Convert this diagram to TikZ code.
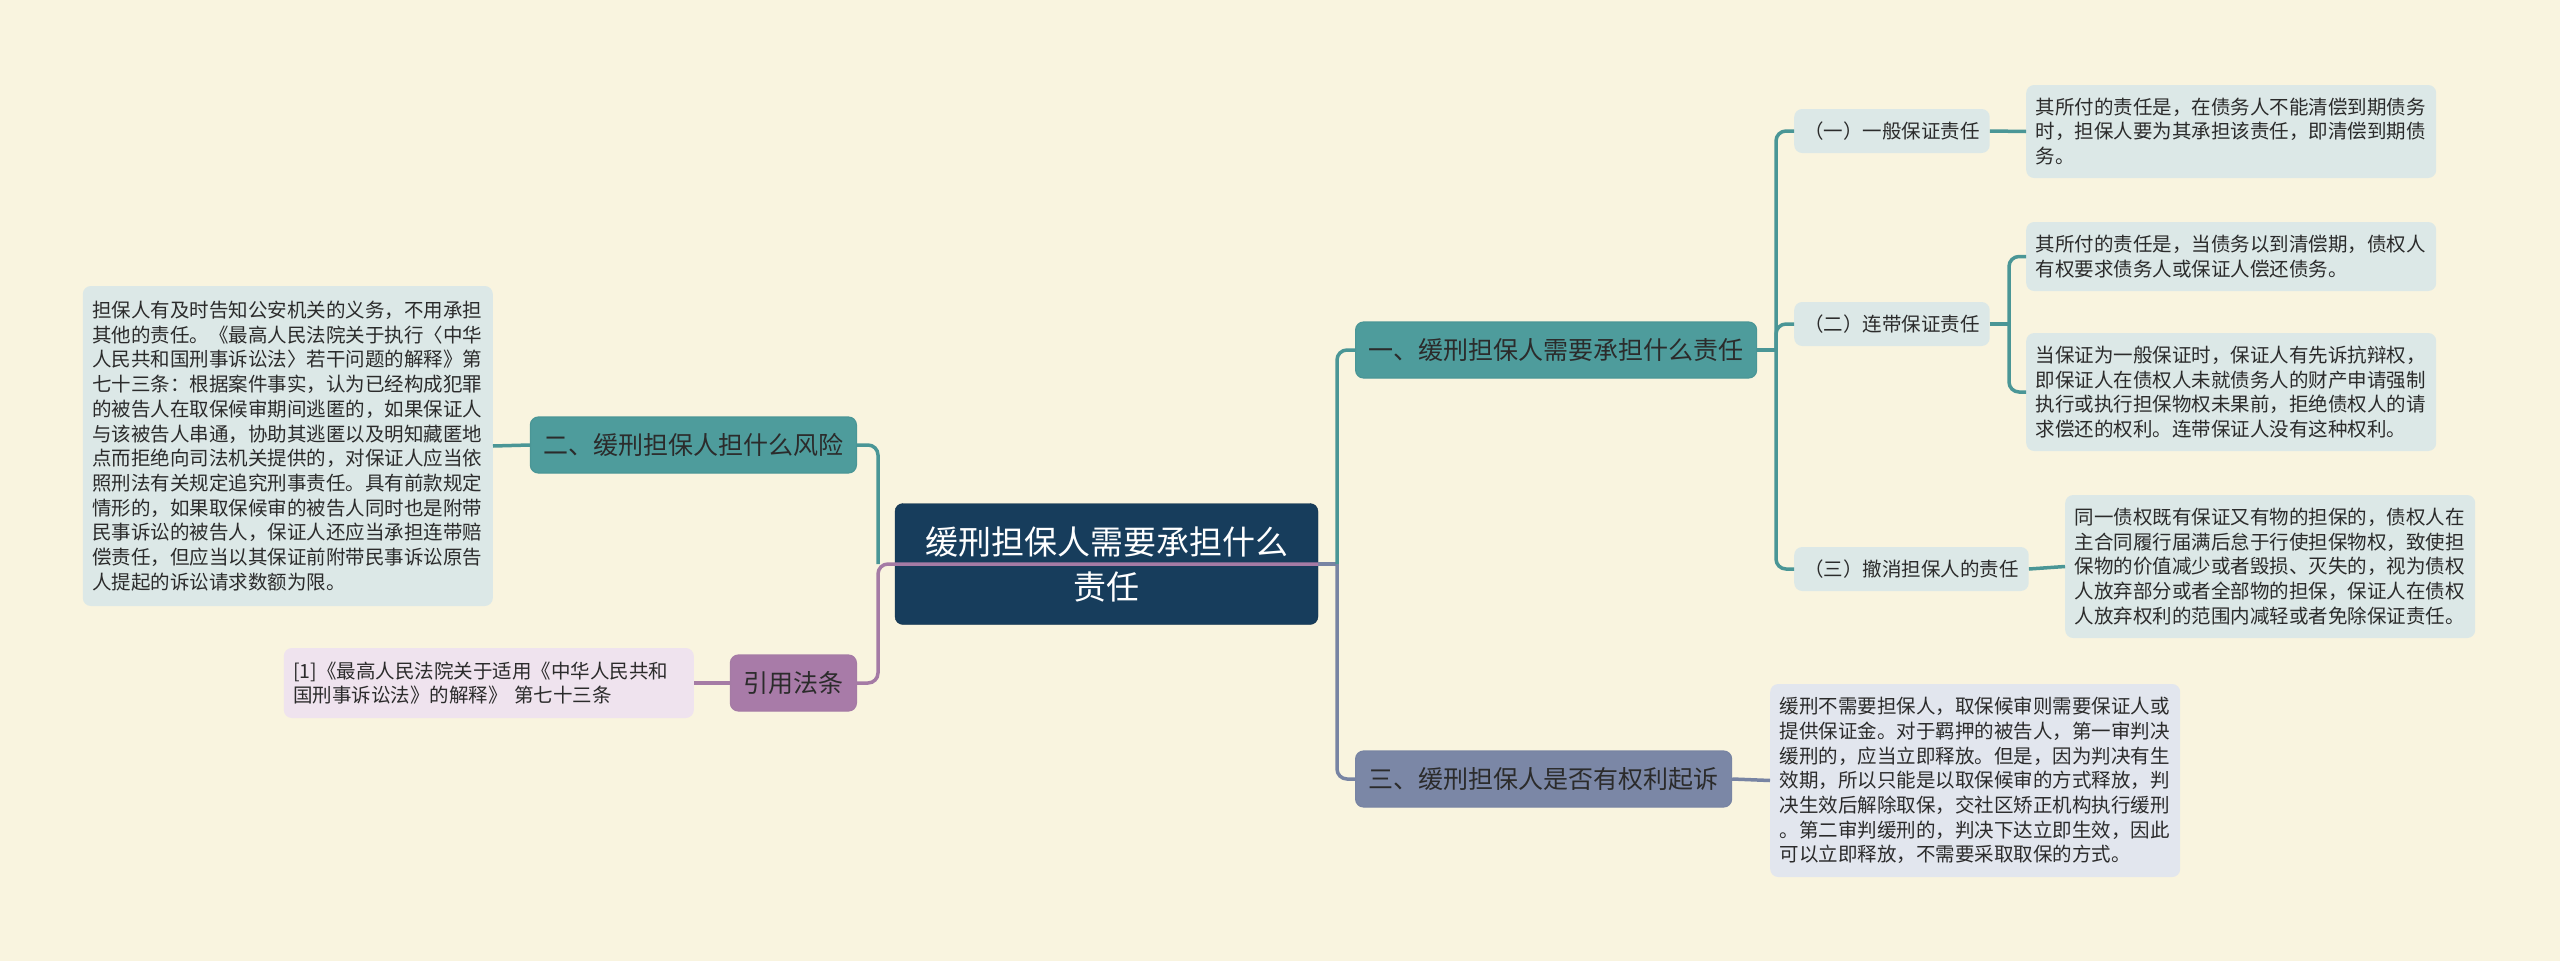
\documentclass[tikz,border=0pt]{standalone}
\usepackage{fontspec}
\setmainfont{Noto Sans CJK SC}
\usetikzlibrary{positioning}

\definecolor{bgcream}{HTML}{F9F4DF}
\definecolor{rootblue}{HTML}{173D5C}
\definecolor{tealfill}{HTML}{4E9C9C}
\definecolor{tealline}{HTML}{4A9696}
\definecolor{mauvefill}{HTML}{A87BA8}
\definecolor{mauveline}{HTML}{A57BA5}
\definecolor{slatefill}{HTML}{7B87A6}
\definecolor{slateline}{HTML}{7884A3}
\definecolor{leaffill}{HTML}{DCE8E7}
\definecolor{pinkfill}{HTML}{EFE3EE}
\definecolor{slateleaf}{HTML}{E2E6EE}
\definecolor{textdark}{HTML}{2B2B2B}

\begin{document}
\begin{tikzpicture}[x=1pt,y=-1pt,
  rootbox/.style={fill=rootblue, draw=rootblue!80!black, rounded corners=8, text=white,
    font=\fontsize{33}{45}\selectfont, align=center, text width=403, minimum height=121, inner xsep=10},
  mainbox/.style={rounded corners=8, line width=1.2, font=\fontsize{25}{30}\selectfont,
    minimum height=56, inner xsep=13, inner ysep=2, text=textdark},
  subbox/.style={fill=leaffill, rounded corners=8, font=\fontsize{19.5}{24.7}\selectfont,
    minimum height=44, inner xsep=10, inner ysep=2, text=textdark},
  leafbox/.style={fill=leaffill, rounded corners=8, font=\fontsize{19.5}{24.7}\selectfont,
    text width=391, align=left, inner xsep=9.5, inner ysep=2, text=textdark},
  link/.style={line width=3.5, rounded corners=10}]
		% Background
		\fill[bgcream] (0,0) rectangle (2560,961);
		% Root and main branches
		\node[rootbox] (root) at (1106.5,564) {缓刑担保人需要承担什么\\责任};
		\node[mainbox, fill=tealfill, draw=tealline, anchor=west] (br1) at (1355,350) {一、缓刑担保人需要承担什么责任};
		\node[mainbox, fill=tealfill, draw=tealline, anchor=east] (br2) at (857,445) {二、缓刑担保人担什么风险};
		\node[mainbox, fill=mauvefill, draw=mauveline, anchor=east] (law) at (857,683) {引用法条};
		\node[mainbox, fill=slatefill, draw=slateline, anchor=west] (br3) at (1355,779) {三、缓刑担保人是否有权利起诉};
		% Sub topics of branch one
		\node[subbox, anchor=west] (gen) at (1794,131) {（一）一般保证责任};
		\node[subbox, anchor=west] (joint) at (1794,324) {（二）连带保证责任};
		\node[subbox, anchor=west] (cancel) at (1794,569) {（三）撤消担保人的责任};
		% Leaf texts
		\node[leafbox, minimum height=93, anchor=west] (genTxt) at (2026,131.5)
			{其所付的责任是，在债务人不能清偿到期债务\\时，担保人要为其承担该责任，即清偿到期债\\务。};
		\node[leafbox, minimum height=69, anchor=west] (jointA) at (2026,256.5)
			{其所付的责任是，当债务以到清偿期，债权人\\有权要求债务人或保证人偿还债务。};
		\node[leafbox, minimum height=118, anchor=west] (jointB) at (2026,392)
			{当保证为一般保证时，保证人有先诉抗辩权，\\即保证人在债权人未就债务人的财产申请强制\\执行或执行担保物权未果前，拒绝债权人的请\\求偿还的权利。连带保证人没有这种权利。};
		\node[leafbox, minimum height=143, anchor=west] (cancelTxt) at (2065,566.5)
			{同一债权既有保证又有物的担保的，债权人在\\主合同履行届满后怠于行使担保物权，致使担\\保物的价值减少或者毁损、灭失的，视为债权\\人放弃部分或者全部物的担保，保证人在债权\\人放弃权利的范围内减轻或者免除保证责任。};
		\node[leafbox, fill=slateleaf, minimum height=193, anchor=west] (suitTxt) at (1770,780.5)
			{缓刑不需要担保人，取保候审则需要保证人或\\提供保证金。对于羁押的被告人，第一审判决\\缓刑的，应当立即释放。但是，因为判决有生\\效期，所以只能是以取保候审的方式释放，判\\决生效后解除取保，交社区矫正机构执行缓刑\\。第二审判缓刑的，判决下达立即生效，因此\\可以立即释放，不需要采取取保的方式。};
		\node[leafbox, minimum height=320, anchor=east] (riskTxt) at (493,446)
			{担保人有及时告知公安机关的义务，不用承担\\其他的责任。《最高人民法院关于执行〈中华\\人民共和国刑事诉讼法〉若干问题的解释》第\\七十三条：根据案件事实，认为已经构成犯罪\\的被告人在取保候审期间逃匿的，如果保证人\\与该被告人串通，协助其逃匿以及明知藏匿地\\点而拒绝向司法机关提供的，对保证人应当依\\照刑法有关规定追究刑事责任。具有前款规定\\情形的，如果取保候审的被告人同时也是附带\\民事诉讼的被告人，保证人还应当承担连带赔\\偿责任，但应当以其保证前附带民事诉讼原告\\人提起的诉讼请求数额为限。};
		\node[leafbox, fill=pinkfill, minimum height=70, anchor=east] (lawTxt) at (694,683)
			{[1]《最高人民法院关于适用《中华人民共和\\国刑事诉讼法》的解释》 第七十三条};
		% Trunk points
		\coordinate (rt) at (1337,564);
		\coordinate (lt) at (878,564);
		\coordinate (t1) at (1776,350);
		\coordinate (t2) at (2009,324);
		% Right side connectors
		\draw[link, slateline] (root.east) -- (rt);
		\draw[link, tealline] (rt) |- (br1.west);
		\draw[link, slateline] (rt) |- (br3.west);
		\draw[link, tealline] (br1.east) -- (t1);
		\draw[link, tealline] (t1) |- (gen.west);
		\draw[link, tealline] (t1) |- (joint.west);
		\draw[link, tealline] (t1) |- (cancel.west);
		\draw[link, tealline] (gen.east) -- (genTxt.west);
		\draw[link, tealline] (joint.east) -- (t2);
		\draw[link, tealline] (t2) |- (jointA.west);
		\draw[link, tealline] (t2) |- (jointB.west);
		\draw[link, tealline] (cancel.east) -- (cancelTxt.west);
		\draw[link, slateline] (br3.east) -- (suitTxt.west);
		% Left side connectors
		\draw[link, tealline] (lt) |- (br2.east);
		\draw[link, mauveline] (root.east) -- (lt) |- (law.east);
		\draw[link, tealline] (br2.west) -- (riskTxt.east);
		\draw[link, mauveline] (law.west) -- (lawTxt.east);
	\end{tikzpicture}
\end{document}
